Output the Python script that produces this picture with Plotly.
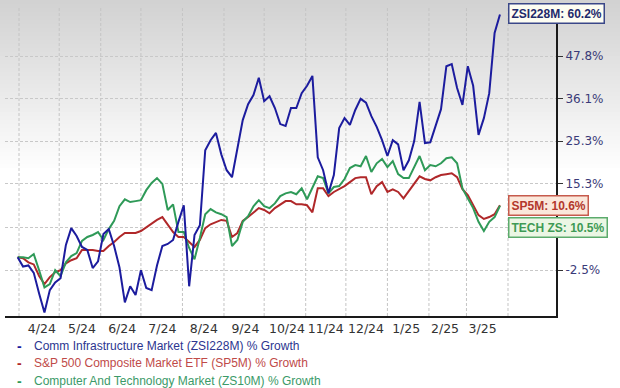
import math
import plotly.graph_objects as go

dates = [
    "2024-03-31", "2024-04-04", "2024-04-08", "2024-04-12", "2024-04-16", "2024-04-20", "2024-04-24", "2024-04-28",
    "2024-05-02", "2024-05-06", "2024-05-10", "2024-05-14", "2024-05-18", "2024-05-22", "2024-05-26", "2024-05-30",
    "2024-06-03", "2024-06-07", "2024-06-11", "2024-06-15", "2024-06-19", "2024-06-23", "2024-06-27", "2024-07-01",
    "2024-07-05", "2024-07-09", "2024-07-13", "2024-07-17", "2024-07-21", "2024-07-25", "2024-07-29", "2024-08-02",
    "2024-08-06", "2024-08-10", "2024-08-14", "2024-08-18", "2024-08-22", "2024-08-26", "2024-08-30", "2024-09-03",
    "2024-09-07", "2024-09-11", "2024-09-15", "2024-09-19", "2024-09-23", "2024-09-27", "2024-10-01", "2024-10-05",
    "2024-10-09", "2024-10-13", "2024-10-17", "2024-10-21", "2024-10-25", "2024-10-29", "2024-11-02", "2024-11-06",
    "2024-11-10", "2024-11-14", "2024-11-18", "2024-11-22", "2024-11-26", "2024-11-30", "2024-12-04", "2024-12-08",
    "2024-12-12", "2024-12-16", "2024-12-20", "2024-12-24", "2024-12-28", "2025-01-01", "2025-01-05", "2025-01-09",
    "2025-01-13", "2025-01-17", "2025-01-21", "2025-01-25", "2025-01-29", "2025-02-02", "2025-02-06", "2025-02-10",
    "2025-02-14", "2025-02-18", "2025-02-22", "2025-02-26", "2025-03-02", "2025-03-06", "2025-03-10", "2025-03-14",
    "2025-03-18", "2025-03-22", "2025-03-26",
]

# % growth values
comm_infra = [
    0.0, -1.8, -1.6, -3.0, -6.8, -10.2, -6.2, -4.8, -4.0, 2.4, 5.8, 4.2, 2.0, 1.4, -2.1, -0.8,
    4.6, 5.6, 2.2, -2.0, -8.4, -5.5, -7.1, -2.5, -5.8, -6.2, -1.6, 2.2, 2.6, 3.4, 7.1, 10.6,
    -5.5, 4.4, 6.4, 23.1, 25.5, 27.3, 22.1, 18.4, 16.8, 23.8, 30.5, 34.6, 37.0, 41.7, 35.4, 36.7,
    33.6, 29.5, 29.0, 33.6, 33.6, 37.5, 39.5, 42.2, 21.4, 18.4, 13.2, 17.3, 28.5, 31.0, 29.3, 33.1,
    36.0, 35.0, 31.5, 28.8, 25.5, 21.7, 25.5, 24.5, 18.4, 20.7, 25.3, 35.2, 24.8, 25.0, 29.3, 33.3,
    44.9, 45.5, 38.9, 34.4, 44.9, 39.5, 26.8, 31.0, 37.5, 54.6, 60.2,
]
sp500 = [
    0.0, -0.2, -1.0, -1.4, -3.6, -5.1, -3.8, -2.9, -2.5, -1.2, -0.6, -0.2, 1.4, 1.4, 1.4, 1.2,
    1.2, 2.2, 3.0, 4.0, 4.8, 4.8, 4.8, 5.2, 6.0, 6.8, 7.5, 8.1, 6.4, 5.0, 4.0, 4.0,
    3.0, 2.0, 3.4, 5.8, 6.6, 7.1, 7.5, 7.3, 4.0, 4.8, 7.3, 8.1, 9.1, 10.0, 9.6, 8.9,
    10.0, 10.8, 11.5, 11.5, 10.8, 10.8, 10.6, 9.1, 14.3, 14.3, 12.6, 13.5, 14.1, 14.8, 15.7, 16.6,
    16.8, 16.8, 13.0, 14.8, 15.7, 13.5, 14.1, 13.5, 12.1, 13.7, 15.5, 17.0, 16.4, 16.1, 16.8, 17.3,
    17.5, 17.7, 16.8, 14.1, 12.8, 10.6, 8.5, 7.7, 8.1, 8.7, 10.6,
]
tech = [
    0.0, 0.0, -0.2, 0.6, -2.5, -5.7, -5.1, -2.5, -3.6, -1.0, 0.2, 0.8, 3.2, 4.0, 4.4, 5.0,
    3.4, 5.6, 7.3, 10.4, 11.9, 11.3, 11.5, 11.7, 13.9, 15.5, 16.6, 15.3, 9.6, 10.8, 5.0, 5.0,
    1.8, -0.4, 3.8, 8.7, 9.8, 9.1, 8.7, 8.1, 2.2, 3.4, 7.1, 8.3, 10.4, 11.7, 10.4, 10.0,
    11.0, 12.6, 13.2, 13.5, 13.0, 14.3, 11.9, 14.6, 17.0, 16.6, 13.2, 14.6, 14.8, 16.4, 18.9, 19.6,
    19.3, 21.7, 18.0, 20.0, 21.0, 19.1, 20.5, 17.5, 16.6, 16.6, 19.3, 21.7, 18.4, 19.6, 19.3, 20.0,
    21.2, 21.4, 20.0, 14.3, 12.1, 10.0, 7.1, 5.2, 7.1, 8.1, 10.5,
]

y_tick_pct = [-2.5, 6.0, 15.3, 25.3, 36.1, 47.8]
y_tick_text = ["-2.5%", "", "15.3%", "25.3%", "36.1%", "47.8%"]
month_starts = ["2024-04-01", "2024-05-01", "2024-06-01", "2024-07-01", "2024-08-01", "2024-09-01",
                "2024-10-01", "2024-11-01", "2024-12-01", "2025-01-01", "2025-02-01", "2025-03-01",
                "2025-04-01"]
x_tick_pos = ["2024-04-18", "2024-05-18", "2024-06-17", "2024-07-17", "2024-08-17", "2024-09-17",
              "2024-10-18", "2024-11-16", "2024-12-16", "2025-01-15", "2025-02-13", "2025-03-13"]
x_tick_text = ["4/24", "5/24", "6/24", "7/24", "8/24", "9/24", "10/24", "11/24", "12/24", "1/25", "2/25", "3/25"]

series = [
    ("S&P 500 Composite Market ETF (SP5M) % Growth", sp500, "#b0282a", "#c04a48"),
    ("Computer And Technology Market (ZS10M) % Growth", tech, "#2f9a58", "#3b9a68"),
    ("Comm Infrastructure Market (ZSI228M) % Growth", comm_infra, "#1c1c9e", "#2c3590"),
]

fig = go.Figure()
for name, vals, col, _ in series:
    fig.add_trace(go.Scatter(x=dates, y=[100 + v for v in vals], mode="lines", name=name,
                             line=dict(color=col, width=2), showlegend=False, hoverinfo="skip"))

W, H = 620, 388
ml, mr, mt, mb = 5, 64, 8, 72
pw, ph = W - ml - mr, H - mt - mb

def px_x(p):
    return (p - ml) / pw

def px_y(p):
    return (H - mb - p) / ph

# background gradient (top grey fading to white)
shapes = []
band = 4
for i in range(0, 168, band):
    t = i / 168
    c = int(0xd2 + (0xff - 0xd2) * t)
    shapes.append(dict(type="rect", xref="paper", yref="paper", x0=px_x(0), x1=px_x(W),
                       y0=px_y(i + band + 0.5), y1=px_y(i), fillcolor=f"rgb({c},{c},{c})",
                       line=dict(width=0), layer="below"))
shapes.append(dict(type="rect", xref="paper", yref="paper", x0=px_x(0), x1=px_x(W),
                   y0=px_y(H), y1=px_y(168), fillcolor="white", line=dict(width=0), layer="below"))
# vertical month gridlines
for m in month_starts:
    shapes.append(dict(type="line", xref="x", yref="paper", x0=m, x1=m, y0=0, y1=1,
                       line=dict(color="#c4c4c4", width=1, dash="3px,2px"), layer="below"))

annotations = []
# legend
legend_rows = [(series[2], 346), (series[0], 363), (series[1], 381)]
for (name, vals, col, tcol), py in legend_rows:
    annotations.append(dict(xref="paper", yref="paper", x=px_x(19), y=px_y(py), text="<b>-</b>",
                            showarrow=False, font=dict(color=col, size=14, family="Liberation Sans"),
                            xanchor="center", yanchor="middle"))
    annotations.append(dict(xref="paper", yref="paper", x=px_x(32), y=px_y(py), text=name,
                            showarrow=False, font=dict(color=tcol, size=12, family="Liberation Sans Narrow, Liberation Sans"),
                            xanchor="left", yanchor="middle"))

# end labels
end_labels = [
    ("ZSI228M: ", comm_infra, "#1f2a6b", "#fdfdf2", "#3a4788", 1),
    ("SP5M: ", sp500, "#b3382c", "#fbe7da", "#c65a4c", 0),
    ("TECH ZS: ", tech, "#3e9a55", "#ebf6e4", "#5cab6c", -22),
]
for prefix, vals, tcol, bg, bc, ys in end_labels:
    annotations.append(dict(xref="x", yref="y", x=dates[-1], y=math.log10(100 + vals[-1]),
                            text=f"<b>{prefix}{vals[-1]:.1f}%</b>", showarrow=False,
                            xanchor="left", yanchor="middle", xshift=8, yshift=ys,
                            font=dict(color=tcol, size=12, family="Liberation Sans"),
                            bgcolor=bg, bordercolor=bc, borderwidth=1.5, borderpad=2))

fig.update_layout(
    width=W, height=H, margin=dict(l=ml, r=mr, t=mt, b=mb),
    paper_bgcolor="white", plot_bgcolor="rgba(0,0,0,0)",
    shapes=shapes, annotations=annotations, showlegend=False,
    xaxis=dict(
        type="date", range=["2024-03-21 13:00", "2025-05-06 20:00"],
        tickmode="array", tickvals=x_tick_pos, ticktext=x_tick_text,
        showgrid=False, ticks="", zeroline=False,
        showline=True, linecolor="#1a1a1a", linewidth=2,
        tickfont=dict(family="DejaVu Sans", size=12.5, color="#333333"),
    ),
    yaxis=dict(
        type="log", side="right", range=[math.log10(89.2), math.log10(162.25)],
        tickmode="array", tickvals=[100 + v for v in y_tick_pct], ticktext=y_tick_text,
        showgrid=True, gridcolor="#c8c8c8", griddash="3px,2px", gridwidth=1,
        ticks="outside", ticklen=5, tickcolor="#333333", tickwidth=1,
        showline=True, linecolor="#1a1a1a", linewidth=2, zeroline=False,
        tickfont=dict(family="DejaVu Sans", size=12, color="#3a3a78"),
    ),
)

fig.write_html("out.html", config={"displayModeBar": False},
               post_script="document.body.style.margin='0';document.body.style.padding='0';")
